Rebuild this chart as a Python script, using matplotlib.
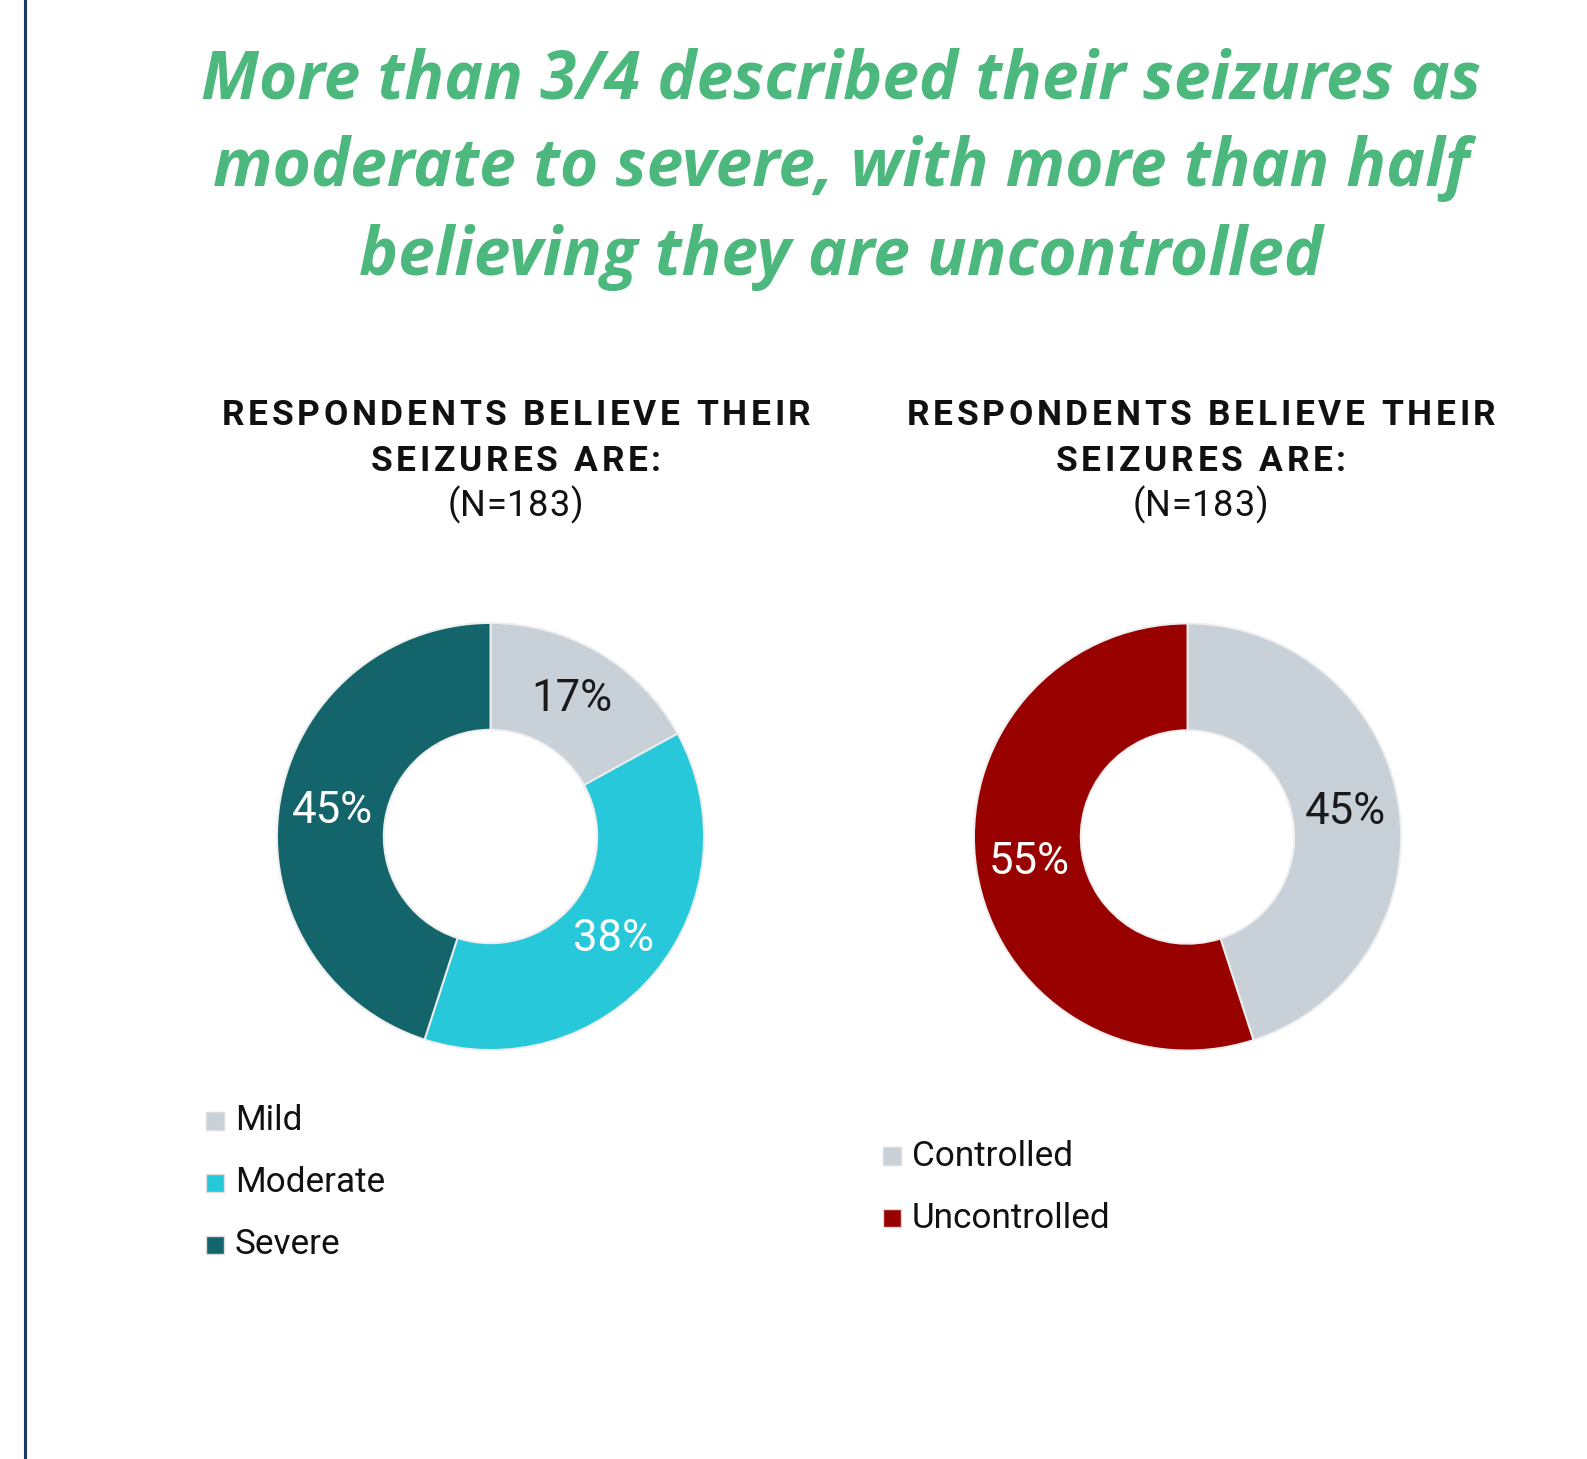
import numpy as np
import matplotlib.pyplot as plt
from matplotlib.patches import Rectangle
from matplotlib.font_manager import FontProperties, findfont
from matplotlib.ft2font import FT2Font

# Chart data
severity_labels = ["Mild", "Moderate", "Severe"]
severity_pct = [17, 38, 45]
severity_colors = ["#c8d0d8", "#26c8da", "#13646b"]
severity_text = ["#1a1a1a", "white", "white"]

control_labels = ["Controlled", "Uncontrolled"]
control_pct = [45, 55]
control_colors = ["#c8d0d8", "#990000"]
control_text = ["#1a1a1a", "white"]

title = ("More than 3/4 described their seizures as\n"
         "moderate to severe, with more than half\n"
         "believing they are uncontrolled")
subtitle = ["RESPONDENTS BELIEVE THEIR", "SEIZURES ARE:"]
n_text = "(N=183)"

W, H = 1587, 1459
DPI = 100
fig = plt.figure(figsize=(W / DPI, H / DPI), dpi=DPI)
fig.patch.set_facecolor("white")


def px(x, y):
    # pixel coords (from top-left) -> figure fraction
    return x / W, 1 - y / H


def tracked(cx, cy, s, size, weight="normal", track=0.0, color="#111111"):
    # text with extra letter spacing, centred on (cx, cy) in pixels
    fp = FontProperties(family="Roboto", weight=weight, size=size)
    font = FT2Font(findfont(fp))
    font.set_size(size, DPI)
    adv = [font.load_char(ord(c)).linearHoriAdvance / 65536 for c in s]
    total = sum(adv) + track * (len(s) - 1)
    x = cx - total / 2
    base = cy + 0.711 * size * DPI / 72 / 2
    for c, a in zip(s, adv):
        if c != " ":
            fx, fy = px(x + a / 2, base)
            fig.text(fx, fy, c, fontproperties=fp, ha="center", va="baseline", color=color)
        x += a + track


# left border line
fig.add_artist(plt.Line2D([25 / W, 25 / W], [0, 1], color="#1f3864", lw=2.2))

# main title
tx, ty = px(841, 169)
fig.text(tx, ty, title, ha="center", va="center", fontsize=47.3, color="#4db87d",
         family="Open Sans", weight="bold", style="italic", linespacing=1.42)


def donut(cx, cy, values, colors, text_colors):
    r = 213.5
    pad = 12
    ax = fig.add_axes([(cx - r - pad) / W, (H - cy - r - pad) / H,
                       2 * (r + pad) / W, 2 * (r + pad) / H])
    wedges, _ = ax.pie(values, colors=colors, startangle=90, counterclock=False,
                       radius=1, wedgeprops=dict(width=0.5, edgecolor="#eeeeee", linewidth=1.4))
    lim = (r + pad) / r
    ax.set_xlim(-lim, lim)
    ax.set_ylim(-lim, lim)
    ax.set_aspect("equal")
    # percent labels at ring middle
    start = 90.0
    for v, tc in zip(values, text_colors):
        mid = start - v / sum(values) * 180
        start -= v / sum(values) * 360
        rr = 0.75
        ax.text(rr * np.cos(np.radians(mid)), rr * np.sin(np.radians(mid)), f"{v}%",
                ha="center", va="center", fontsize=31.5, color=tc, family="Roboto")
    return ax


def heading(cx):
    tracked(cx, 412, subtitle[0], 25.5, "bold", 3.7)
    tracked(cx, 458, subtitle[1], 25.5, "bold", 3.7)
    tracked(cx - 1, 503, n_text, 26, "normal", 0.6)


def legend(x0, y0, labels, colors, step=62):
    for i, (lab, col) in enumerate(zip(labels, colors)):
        y = y0 + i * step
        sx, sy = px(x0 + 1, y + 9)
        fig.add_artist(Rectangle((sx, sy), 18 / W, 18 / H, transform=fig.transFigure,
                                 facecolor=col, edgecolor="#dddddd", lw=1))
        tx, ty = px(x0 + 30, y)
        fig.text(tx, ty, lab, ha="left", va="center", fontsize=25.3,
                 family="Roboto", color="#111111")


heading(516)
heading(1201)

donut(490.5, 836.5, severity_pct, severity_colors, severity_text)
donut(1187.5, 837, control_pct, control_colors, control_text)

legend(205, 1121, severity_labels, severity_colors)
legend(882, 1156, control_labels, control_colors)

fig.savefig("out.png", dpi=DPI, facecolor="white")
